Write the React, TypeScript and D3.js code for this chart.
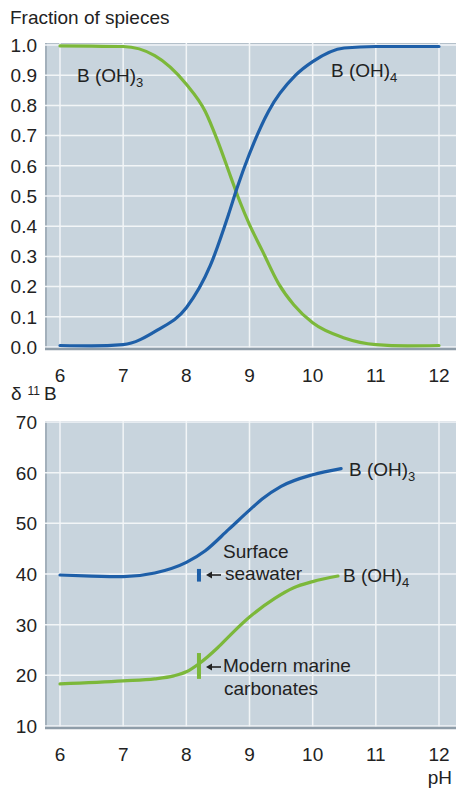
import * as React from "react";
import * as d3 from "d3";

type Pt = [number, number];

// pH ticks shared by both panels
const phTicks = [6, 7, 8, 9, 10, 11, 12];
const fractionTicks = [0, 0.1, 0.2, 0.3, 0.4, 0.5, 0.6, 0.7, 0.8, 0.9, 1.0];
const deltaTicks = [10, 20, 30, 40, 50, 60, 70];

// top panel: fraction of species
const fracBOH3: Pt[] = [
  [6, 0.997], [6.5, 0.996], [7, 0.995], [7.5, 0.965], [8, 0.87], [8.3, 0.78],
  [8.5, 0.68], [8.7, 0.565], [8.85, 0.48], [9, 0.405], [9.2, 0.32], [9.46, 0.21],
  [9.7, 0.14], [10, 0.08], [10.5, 0.03], [11, 0.008], [11.5, 0.004], [12, 0.005],
];
const fracBOH4: Pt[] = [
  [6, 0.005], [6.5, 0.004], [7, 0.008], [7.54, 0.056], [8, 0.13], [8.38, 0.27],
  [8.67, 0.44], [8.8, 0.525], [9, 0.64], [9.3, 0.78], [9.73, 0.9], [10, 0.945],
  [10.5, 0.99], [11, 0.995], [12, 0.995],
];

// bottom panel: delta 11B
const deltaBOH3: Pt[] = [
  [6, 39.8], [6.5, 39.6], [7, 39.5], [7.5, 40.2], [8, 42.3], [8.3, 44.6],
  [8.67, 48.8], [9, 52.6], [9.2, 54.8], [9.5, 57.3], [10, 59.6], [10.45, 60.8],
];
const deltaBOH4: Pt[] = [
  [6, 18.3], [7, 18.9], [7.5, 19.3], [7.8, 19.9], [8, 20.7], [8.2, 22.3],
  [8.5, 25.5], [8.7, 28], [9, 31.5], [9.4, 35.2], [9.7, 37.3], [10, 38.5],
  [10.4, 39.6],
];

// measured ranges at pH 8.2
const seawaterRange: Pt[] = [[8.2, 38.5], [8.2, 41]];
const carbonateRange: Pt[] = [[8.2, 19.3], [8.2, 24.4]];

const W = 456;
const H = 791;
const GREEN = "#7cb83a";
const BLUE = "#1e5fa8";
const PANEL = "#c8d4dd";
const TEXT = "#222";
const FONT = "'Liberation Sans', Arial, sans-serif";

const x = d3.scaleLinear().domain([6, 12]).range([60, 439]);
const yTop = d3.scaleLinear().domain([0, 1]).range([347, 45]);
const yBot = d3.scaleLinear().domain([10, 70]).range([726, 422]);

function Panel({
  y,
  ticks,
  fmt,
  top,
  bottom,
}: {
  y: d3.ScaleLinear<number, number>;
  ticks: number[];
  fmt: (v: number) => string;
  top: number;
  bottom: number;
}) {
  const left = 45;
  const right = W;
  return (
    <g>
      <rect x={left} y={top} width={right - left} height={bottom - top} fill={PANEL} />
      <line x1={left} x2={right} y1={top + 0.5} y2={top + 0.5} stroke="#b4c0ca" strokeWidth={1} />
      <line x1={left + 1} x2={left + 1} y1={top} y2={bottom} stroke="#a3b0bb" strokeWidth={2} />
      {ticks.map((t) => (
        <line key={"h" + t} x1={left} x2={right} y1={y(t)} y2={y(t)} stroke="#f2f5f7" strokeWidth={1.5} />
      ))}
      {phTicks.map((t) => (
        <line key={"v" + t} x1={x(t)} x2={x(t)} y1={top} y2={bottom} stroke="#f2f5f7" strokeWidth={1.5} />
      ))}
      <line x1={left} x2={right} y1={bottom - 1} y2={bottom - 1} stroke="#8f9da9" strokeWidth={2.5} />
      <g fontFamily={FONT} fontSize={19} fill={TEXT} textAnchor="end">
        {ticks.map((t) => (
          <text key={t} x={37} y={y(t)} dy="0.36em">
            {fmt(t)}
          </text>
        ))}
      </g>
    </g>
  );
}

function Label({ px, py, sub, text = "B (OH)" }: { px: number; py: number; sub: string; text?: string }) {
  return (
    <text x={px} y={py} fontFamily={FONT} fontSize={19} fill={TEXT}>
      {text}
      <tspan fontSize={13} dy={5}>
        {sub}
      </tspan>
    </text>
  );
}

function Arrow({ x1, x2, yy }: { x1: number; x2: number; yy: number }) {
  return (
    <g>
      <line x1={x1} x2={x2 + 5} y1={yy} y2={yy} stroke={TEXT} strokeWidth={1.6} />
      <path d={`M${x2},${yy} L${x2 + 6},${yy - 3.5} L${x2 + 6},${yy + 3.5} Z`} fill={TEXT} />
    </g>
  );
}

export default function App() {
  const lineTop = d3
    .line<Pt>()
    .x((d) => x(d[0]))
    .y((d) => yTop(d[1]))
    .curve(d3.curveMonotoneX);
  const lineBot = d3
    .line<Pt>()
    .x((d) => x(d[0]))
    .y((d) => yBot(d[1]))
    .curve(d3.curveMonotoneX);

  const barX = x(seawaterRange[0][0]);

  return (
    <svg
      width={W}
      height={H}
      style={{ position: "absolute", left: 0, top: 0, background: "#fff" }}
    >
      <text x={10} y={24} fontFamily={FONT} fontSize={19} fill={TEXT}>
        Fraction of spieces
      </text>

      <Panel y={yTop} ticks={fractionTicks} fmt={(v) => v.toFixed(1)} top={43} bottom={350} />
      <path d={lineTop(fracBOH3) ?? ""} fill="none" stroke={GREEN} strokeWidth={3.2} strokeLinecap="round" />
      <path d={lineTop(fracBOH4) ?? ""} fill="none" stroke={BLUE} strokeWidth={3.2} strokeLinecap="round" />
      <Label px={77} py={82} sub="3" />
      <Label px={331} py={77} sub="4" />

      <g fontFamily={FONT} fontSize={19} fill={TEXT} textAnchor="middle">
        {phTicks.map((t) => (
          <text key={t} x={x(t)} y={382}>
            {t}
          </text>
        ))}
      </g>

      <text x={11} y={400} fontFamily={FONT} fontSize={19} fill={TEXT}>
        δ
        <tspan dx={6} dy={-5} fontSize={12}>
          11
        </tspan>
        <tspan dx={4} dy={5}>
          B
        </tspan>
      </text>

      <Panel y={yBot} ticks={deltaTicks} fmt={(v) => String(v)} top={421} bottom={729} />
      <path d={lineBot(deltaBOH3) ?? ""} fill="none" stroke={BLUE} strokeWidth={3.2} strokeLinecap="round" />
      <path d={lineBot(deltaBOH4) ?? ""} fill="none" stroke={GREEN} strokeWidth={3.2} strokeLinecap="round" />

      <line
        x1={barX}
        x2={barX}
        y1={yBot(seawaterRange[0][1])}
        y2={yBot(seawaterRange[1][1])}
        stroke={BLUE}
        strokeWidth={4}
      />
      <line
        x1={barX}
        x2={barX}
        y1={yBot(carbonateRange[0][1])}
        y2={yBot(carbonateRange[1][1])}
        stroke={GREEN}
        strokeWidth={4}
      />

      <Arrow x1={221} x2={206} yy={575} />
      <Arrow x1={221} x2={206} yy={667} />

      <g fontFamily={FONT} fontSize={19} fill={TEXT}>
        <text x={223} y={558}>Surface</text>
        <text x={225} y={580}>seawater</text>
        <text x={223} y={672}>Modern marine</text>
        <text x={224} y={695}>carbonates</text>
      </g>
      <Label px={349} py={476} sub="3" />
      <Label px={343} py={582} sub="4" />

      <g fontFamily={FONT} fontSize={19} fill={TEXT} textAnchor="middle">
        {phTicks.map((t) => (
          <text key={t} x={x(t)} y={761}>
            {t}
          </text>
        ))}
      </g>
      <text x={452} y={784} fontFamily={FONT} fontSize={19} fill={TEXT} textAnchor="end">
        pH
      </text>
    </svg>
  );
}
